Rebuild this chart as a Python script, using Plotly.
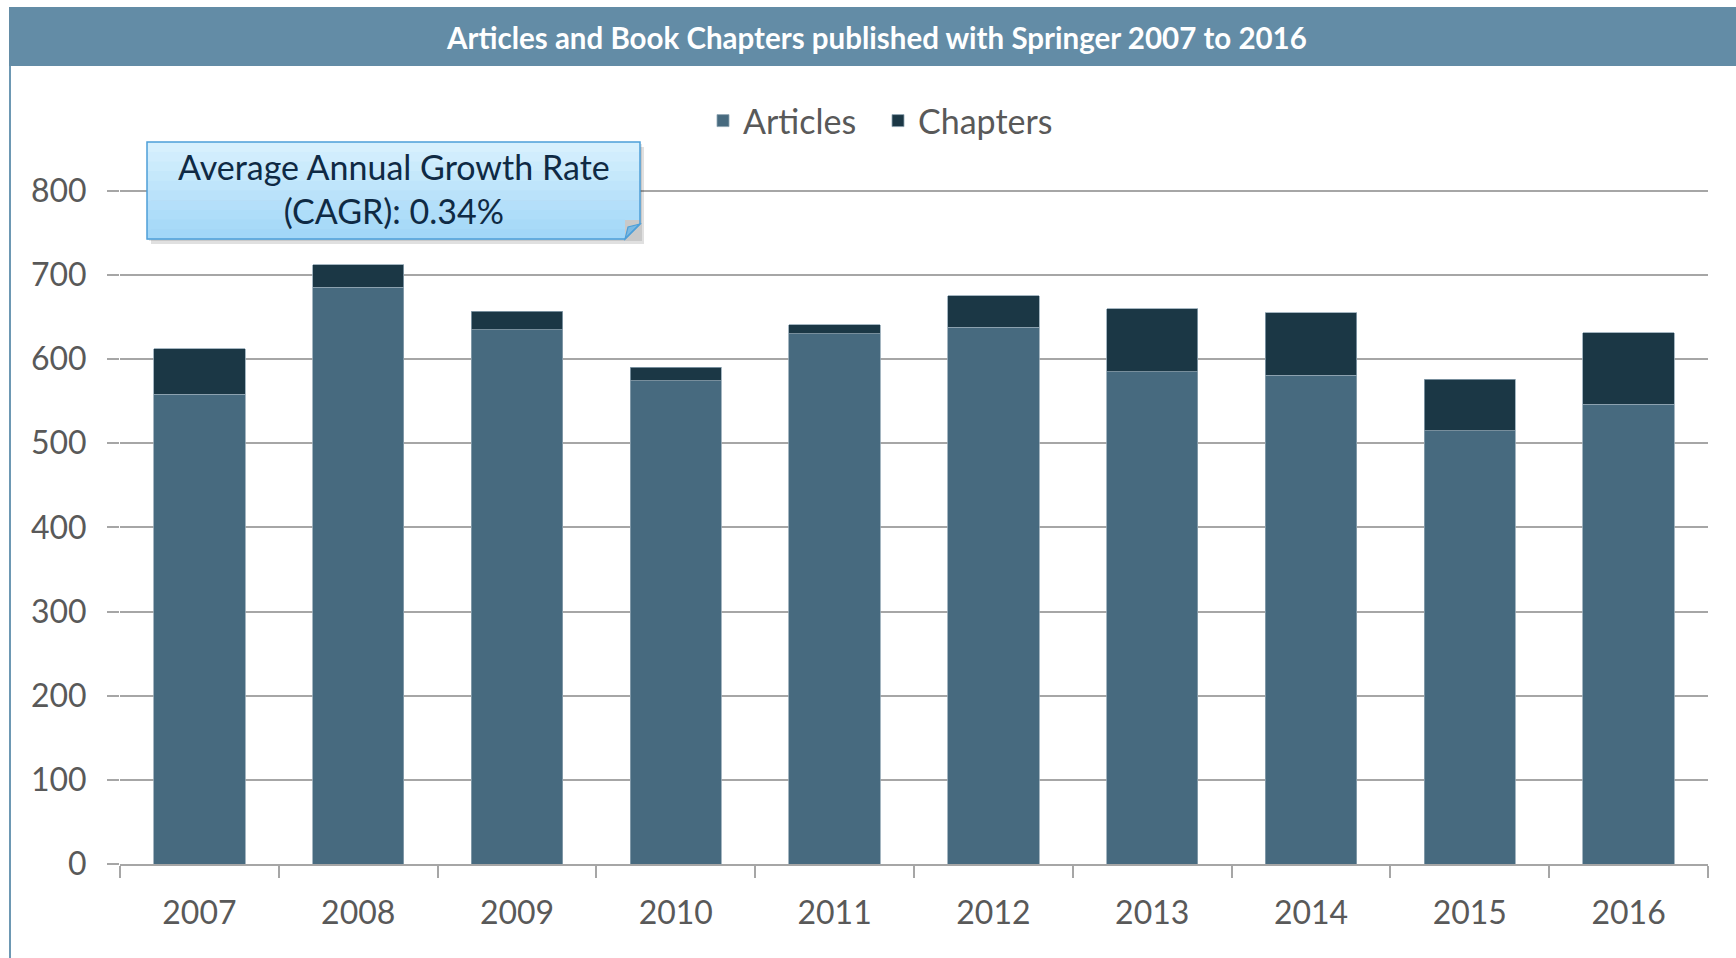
import plotly.graph_objects as go

years = ["2007", "2008", "2009", "2010", "2011", "2012", "2013", "2014", "2015", "2016"]
articles = [558, 685, 635, 574, 630, 638, 585, 581, 515, 546]
chapters = [54, 27, 22, 16, 11, 37, 75, 74, 61, 85]
y_ticks = [0, 100, 200, 300, 400, 500, 600, 700, 800]

title_text = "Articles and Book Chapters published with Springer 2007 to 2016"
note_text = "Average Annual Growth Rate<br>(CAGR): 0.34%"

OFF = 0  # body margin removed by post_script
W, H = 1736, 958
ML, MR, MT, MB = 120, 28, 189, 94
PW, PH = W - ML - MR, H - MT - MB


def px(x):
    # page x pixel -> paper coordinate
    return (x - OFF - ML) / PW


def py(y):
    # page y pixel -> paper coordinate
    return (H - MB - (y - OFF)) / PH


FONT = "Lato"
GRAY = "#595959"
GRID = "#a6a6a6"

fig = go.Figure()
fig.add_trace(go.Bar(x=years, y=articles, name="Articles",
                     marker=dict(color="#476a7f", line=dict(color="#8ea4b2", width=0.8))))
fig.add_trace(go.Bar(x=years, y=chapters, name="Chapters",
                     marker=dict(color="#1b3745", line=dict(color="#8ea4b2", width=0.8))))

shapes = []
# title banner
shapes.append(dict(type="rect", xref="paper", yref="paper", x0=px(9), x1=px(1740), y0=py(7), y1=py(66),
                   fillcolor="#638ca6", line=dict(width=0), layer="below"))
# left border
shapes.append(dict(type="line", xref="paper", yref="paper", x0=px(10), x1=px(10), y0=py(66), y1=py(962),
                   line=dict(color="#6d98b3", width=2)))

# callout box
bx0, bx1, by0, by1 = 147, 640, 142, 239
shapes.append(dict(type="rect", xref="paper", yref="paper", x0=px(bx0 + 4), x1=px(bx1 + 4), y0=py(by0 + 5), y1=py(by1 + 5),
                   fillcolor="rgba(0,0,0,0.12)", line=dict(width=0)))
shapes.append(dict(type="rect", xref="paper", yref="paper", x0=px(bx0 + 2), x1=px(bx1 + 2), y0=py(by0 + 2), y1=py(by1 + 2),
                   fillcolor="rgba(0,0,0,0.10)", line=dict(width=0)))
c_top = (218, 242, 254)
c_bot = (160, 214, 248)
n = 10
fold = 15
for i in range(n):
    t0 = by0 + (by1 - by0) * i / n
    t1 = by0 + (by1 - by0) * (i + 1) / n
    f = (i + 0.5) / n
    c = tuple(int(c_top[k] + (c_bot[k] - c_top[k]) * f) for k in range(3))
    xr = bx1 if t1 <= by1 - fold else bx1 - fold
    shapes.append(dict(type="rect", xref="paper", yref="paper", x0=px(bx0), x1=px(xr), y0=py(t0), y1=py(t1 + 0.5),
                       fillcolor="rgb(%d,%d,%d)" % c, line=dict(width=0)))
# corner fold
shapes.append(dict(type="path", xref="paper", yref="paper",
                   path="M %f %f L %f %f L %f %f Z" % (px(bx1), py(by1 - fold), px(bx1 - fold), py(by1),
                                                       px(bx1 - fold + 3), py(by1 - fold + 3)),
                   fillcolor="#7ab9e3", line=dict(color="#4d9fd8", width=1.2)))
# outline
shapes.append(dict(type="path", xref="paper", yref="paper",
                   path="M %f %f L %f %f L %f %f L %f %f L %f %f Z" % (
                       px(bx0), py(by0), px(bx1), py(by0), px(bx1), py(by1 - fold),
                       px(bx1 - fold), py(by1), px(bx0), py(by1)),
                   fillcolor="rgba(0,0,0,0)", line=dict(color="#4d9fd8", width=1.5)))

annotations = [
    dict(text="<b>" + title_text + "</b>", xref="paper", yref="paper", x=px(876), y=py(37),
         xanchor="center", yanchor="middle", showarrow=False,
         font=dict(family=FONT, size=29.5, color="white")),
    dict(text=note_text, xref="paper", yref="paper", x=px((bx0 + bx1) / 2), y=py((by0 + by1) / 2 - 2),
         xanchor="center", yanchor="middle", showarrow=False,
         font=dict(family=FONT, size=34, color="#0f2a44")),
]

fig.update_layout(
    width=W, height=H,
    margin=dict(l=ML, r=MR, t=MT, b=MB),
    paper_bgcolor="white", plot_bgcolor="white",
    barmode="stack", bargap=0.425,
    font=dict(family=FONT, color=GRAY, size=32),
    showlegend=True,
    legend=dict(orientation="h", x=px(878), y=py(121), xanchor="center", yanchor="middle",
                font=dict(family=FONT, size=34, color=GRAY), traceorder="normal",
                entrywidth=130, bgcolor="rgba(0,0,0,0)"),
    shapes=shapes,
    annotations=annotations,
    xaxis=dict(type="category", showgrid=False, showline=True, linecolor=GRID, linewidth=2,
               ticks="outside", tickson="boundaries", ticklen=12, tickcolor=GRID, tickwidth=2,
               tickfont=dict(family=FONT, size=32, color=GRAY), ticklabelstandoff=20),
    yaxis=dict(range=[0, 802], tickvals=y_ticks, showgrid=True, gridcolor=GRID, gridwidth=2,
               zeroline=False, showline=False, ticks="outside", ticklen=12, tickcolor=GRID, tickwidth=2,
               tickfont=dict(family=FONT, size=32, color=GRAY), ticklabelstandoff=14),
)

fig.write_html("out.html", config={"displayModeBar": False},
               post_script="document.body.style.margin='0';document.body.style.overflow='hidden';")
